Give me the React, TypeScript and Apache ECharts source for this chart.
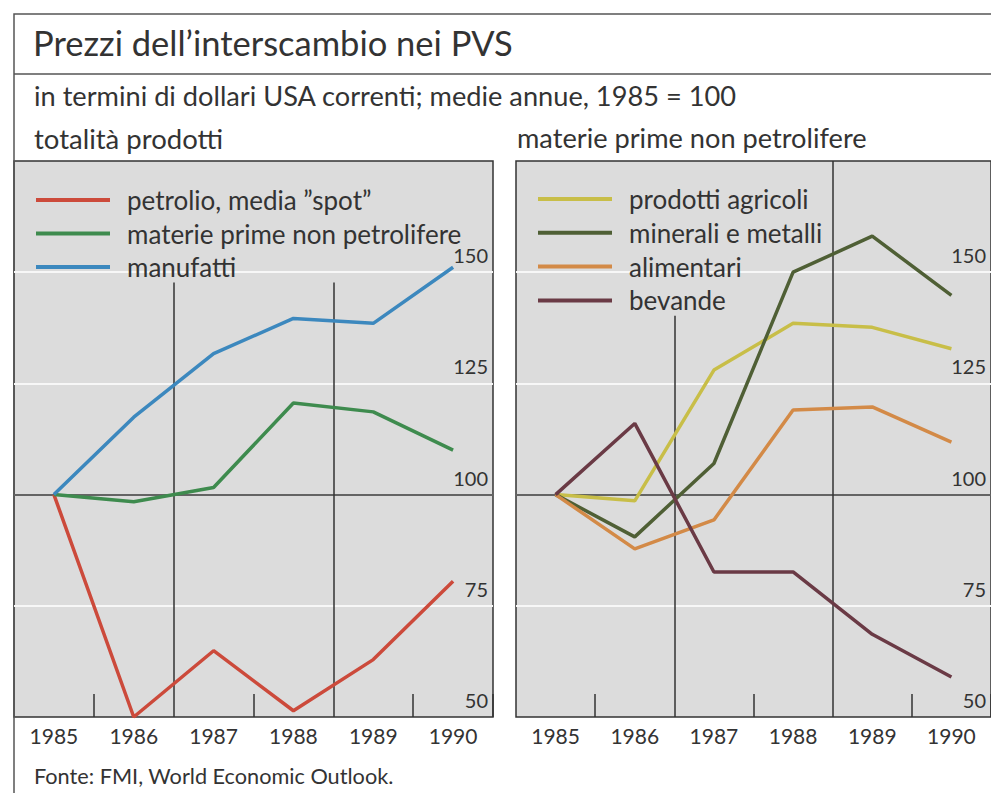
import React, { useEffect, useRef } from "react";
import * as echarts from "echarts";

const yearLabels = ["1985", "1986", "1987", "1988", "1989", "1990"];
const years = [1985, 1986, 1987, 1988, 1989, 1990];

const petrolio = [100, 50.0, 64.9, 51.4, 62.9, 80.5];
const materiePrime = [100, 98.4, 101.6, 120.6, 118.6, 110];
const manufatti = [100, 117.4, 131.7, 139.6, 138.5, 151.1];

const agricoli = [100, 98.6, 128, 138.5, 137.6, 132.8];
const minerali = [100, 90.5, 107, 150, 158.1, 144.8];
const alimentari = [100, 87.8, 94.3, 119, 119.7, 111.8];
const bevande = [100, 116, 82.6, 82.6, 68.6, 59];

const yMin = 50;
const yMax = 175;
const yStep = 25;

const FONT = "Lato";
const INK = "#333333";

const pairs = (vals: number[]) => years.map((y, i) => [y, vals[i]]);

export default function App() {
  const ref = useRef<HTMLDivElement>(null);
  useEffect(() => {
    if (!ref.current) return;
    const chart = echarts.init(ref.current, undefined, { renderer: "svg" });

    const xValueAxis = (gridIndex: number) => ({
      type: "value",
      gridIndex,
      min: 1984.5,
      max: 1990.5,
      position: "bottom",
      axisLine: { show: false },
      axisTick: { show: false },
      axisLabel: { show: false },
      splitLine: { show: false },
    });
    const xCatAxis = (gridIndex: number) => ({
      type: "category",
      gridIndex,
      data: yearLabels,
      boundaryGap: true,
      position: "bottom",
      offset: 0,
      axisLine: { show: false },
      axisTick: {
        show: true,
        inside: true,
        length: 23,
        interval: (i: number) => i === 1 || i === 3 || i === 5,
        lineStyle: { color: INK, width: 1.5 },
      },
      axisLabel: { fontFamily: FONT, fontSize: 21, color: INK, margin: 8 },
      splitLine: { show: false },
    });
    const yAxis = (gridIndex: number) => ({
      type: "value",
      gridIndex,
      min: yMin,
      max: yMax,
      interval: yStep,
      position: "right",
      axisLine: { show: false },
      axisTick: { show: false },
      axisLabel: {
        inside: true,
        margin: 5,
        fontFamily: FONT,
        fontSize: 20,
        color: INK,
        verticalAlign: "bottom",
        lineHeight: 20,
        padding: [0, 0, 7, 0],
        showMaxLabel: false,
        formatter: (v: number) => (v >= yMax ? "" : String(v)),
      },
      splitLine: {
        show: true,
        showMinLine: false,
        showMaxLine: false,
        lineStyle: { color: "#f7f7f7", width: 2 },
      },
    });

    const divider = (x: number, yTop: number) => [
      { coord: [x, yTop] },
      { coord: [x, yMin] },
    ];
    const guideLines = (dividers: any[]) => ({
      silent: true,
      symbol: ["none", "none"],
      label: { show: false },
      lineStyle: { color: INK, width: 1.5, type: "solid" },
      data: [[{ coord: [1984.5, 100] }, { coord: [1990.5, 100] }], ...dividers],
    });

    const line = (name: string, vals: number[], color: string, gi: number, extra: any = {}) => ({
      name,
      type: "line",
      xAxisIndex: gi * 2,
      yAxisIndex: gi,
      data: pairs(vals),
      symbol: "none",
      lineStyle: { color, width: 3.5 },
      itemStyle: { color },
      z: 5,
      ...extra,
    });

    const tStyle = (fontSize: number) => ({ fontFamily: FONT, fontSize, fontWeight: "normal", color: INK });
    const legendText = { fontFamily: FONT, fontSize: 26, color: INK, lineHeight: 26, padding: [0, 0, 6, 12] };

    const option: any = {
      animation: false,
      backgroundColor: "#ffffff",
      textStyle: { fontFamily: FONT },
      title: [
        { text: "Prezzi dell\u2019interscambio nei PVS", left: 33, top: 25, padding: 0, textStyle: tStyle(34.5) },
        { text: "in termini di dollari USA correnti; medie annue, 1985 = 100", left: 34, top: 82, padding: 0, textStyle: tStyle(27.2) },
        { text: "totalit\u00e0 prodotti", left: 34, top: 124, padding: 0, textStyle: tStyle(27.5) },
        { text: "materie prime non petrolifere", left: 517, top: 124, padding: 0, textStyle: tStyle(27.2) },
        { text: "Fonte: FMI, World Economic Outlook.", left: 34, top: 765, padding: 0, textStyle: tStyle(21.7) },
      ],
      graphic: [
        { type: "rect", shape: { x: 14, y: 14, width: 1200, height: 1000 }, style: { fill: "none", stroke: "#555", lineWidth: 1.5 }, z: 0 },
        { type: "line", shape: { x1: 14, y1: 74, x2: 991, y2: 74 }, style: { stroke: "#555", lineWidth: 1.5 }, z: 0 },
      ],
      legend: [
        {
          data: ["petrolio, media \u201dspot\u201d", "materie prime non petrolifere", "manufatti"],
          orient: "vertical", left: 36, top: 184, padding: 0, icon: "rect", itemWidth: 74, itemHeight: 4, itemGap: 1.5,
          textStyle: legendText,
        },
        {
          data: ["prodotti agricoli", "minerali e metalli", "alimentari", "bevande"],
          orient: "vertical", left: 538, top: 183, padding: 0, icon: "rect", itemWidth: 74, itemHeight: 4, itemGap: 1.8,
          textStyle: legendText,
        },
      ],
      grid: [
        { left: 14, top: 161, width: 479, height: 556, show: true, backgroundColor: "#dcdcdc", borderColor: INK, borderWidth: 1.5 },
        { left: 516, top: 161, width: 480, height: 556, show: true, backgroundColor: "#dcdcdc", borderColor: INK, borderWidth: 1.5 },
      ],
      xAxis: [xValueAxis(0), xCatAxis(0), xValueAxis(1), xCatAxis(1)],
      yAxis: [yAxis(0), yAxis(1)],
      series: [
        line("petrolio, media \u201dspot\u201d", petrolio, "#cc4a3b", 0, {
          markLine: guideLines([divider(1986.5, 147.7), divider(1988.5, 147.7)]),
        }),
        line("materie prime non petrolifere", materiePrime, "#3e8b4e", 0),
        line("manufatti", manufatti, "#3c88be", 0),
        line("prodotti agricoli", agricoli, "#c8be48", 1, {
          markLine: guideLines([divider(1986.5, 140.2), divider(1988.5, yMax)]),
        }),
        line("minerali e metalli", minerali, "#4f5f35", 1),
        line("alimentari", alimentari, "#d38a47", 1),
        line("bevande", bevande, "#6a3a45", 1),
      ],
    };
    chart.setOption(option);
    return () => chart.dispose();
  }, []);
  return <div ref={ref} style={{ position: "absolute", left: 0, top: 0, width: 991, height: 793 }} />;
}
